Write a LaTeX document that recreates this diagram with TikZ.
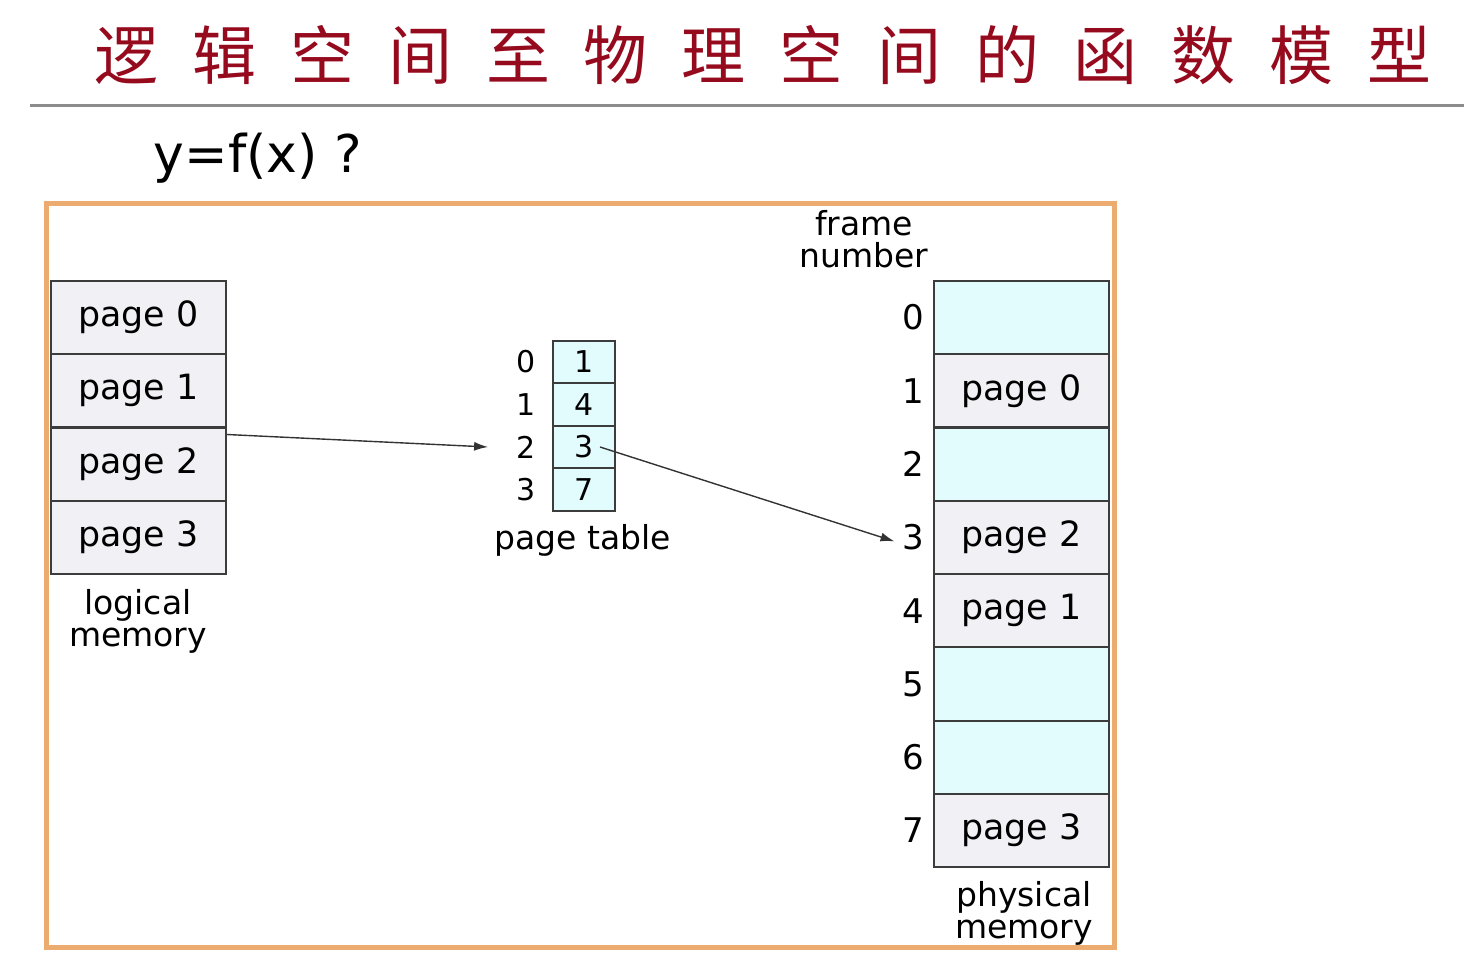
\documentclass[tikz,border=0pt]{standalone}
\usepackage{fontspec}
\setmainfont{DejaVu Sans}
\newfontfamily\cjk[LetterSpace=53]{Noto Sans CJK SC}
\usetikzlibrary{arrows.meta,calc,positioning}

\definecolor{titlered}{RGB}{150,10,30}
\definecolor{usedbg}{RGB}{240,240,245}
\definecolor{freebg}{RGB}{226,251,253}
\definecolor{boxline}{RGB}{60,60,60}
\definecolor{frameorange}{RGB}{236,172,112}

\tikzset{
  mem/.style={draw=boxline, line width=1pt, minimum width=87.5pt, minimum height=36.6pt,
    inner sep=0pt, font=\fontsize{17.4}{20}\selectfont},
  ptcell/.style={draw=boxline, line width=1pt, fill=freebg, minimum width=31pt,
    minimum height=21.3pt, inner sep=0pt, font=\fontsize{15}{18}\selectfont},
  idx/.style={font=\fontsize{15}{18}\selectfont, inner sep=2pt},
  fidx/.style={font=\fontsize{17}{20}\selectfont, inner sep=2pt},
  caption/.style={font=\fontsize{16.5}{16}\selectfont, align=center},
  arr/.style={-{Latex[length=7pt,width=4.5pt]}, line width=0.7pt, draw=black!80},
}

\begin{document}
\begin{tikzpicture}[x=0.5pt,y=-0.5pt]
  \useasboundingbox (0,0) rectangle (1464,958);

  % Title and rule
  \node[anchor=west, font=\cjk\fontsize{32}{36}\selectfont, text=titlered, inner sep=0pt]
    (title) at (94,55) {逻辑空间至物理空间的函数模型};
  \draw[black!45, line width=1.5pt] (30,105) -- (1464,105);
  \node[font=\fontsize{26}{30}\selectfont] (question) at (258,158) {y=f(x) ?};

  % Outer frame
  \draw[frameorange, line width=2.5pt] (46,203) rectangle (1114,947);

  % Logical memory
  \foreach \i in {0,...,3}
    \node[mem, fill=usedbg] (lp\i) at (138.5,{317.5+73.3*\i}) {page \i};
  \node[caption] (lmem) at (138,621) {logical\\memory};

  % Page table
  \foreach \i/\f in {0/1,1/4,2/3,3/7} {
    \node[ptcell] (pt\i) at (584,{362+42.5*\i}) {\f};
    \node[idx, left=6pt of pt\i] (ix\i) {\i};
  }
  \node[caption] (ptab) at (583,540) {page table};

  % Physical memory
  \foreach \i/\txt/\col in {0//freebg,1/page 0/usedbg,2//freebg,3/page 2/usedbg,
      4/page 1/usedbg,5//freebg,6//freebg,7/page 3/usedbg} {
    \node[mem, fill=\col] (fr\i) at (1021.5,{317.5+73.3*\i}) {\txt};
    \node[fidx, left=2pt of fr\i] (fn\i) {\i};
  }
  \node[caption] (fnum) at (864,239) {frame\\number};
  \node[caption] (pmem) at (1024,913) {physical\\memory};

  % Mapping arrows
  \coordinate (tip1) at ($(ix2.west)+(-12pt,0)$);
  \coordinate (tip2) at ($(fn3.west)+(-2pt,-2pt)$);
  \draw[arr] ($(lp2.north east)+(0,-4pt)$) -- (tip1);
  \draw[arr] ($(pt2.center)+(8pt,0)$) -- (tip2);
\end{tikzpicture}
\end{document}
